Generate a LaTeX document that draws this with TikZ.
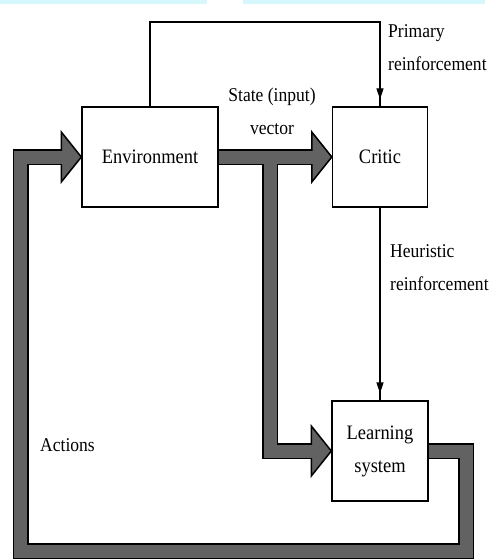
\documentclass[tikz,border=0pt]{standalone}
\usepackage{fontspec}
\setmainfont[FakeStretch=0.9]{Liberation Serif}
\usetikzlibrary{arrows.meta,decorations.markings,calc}
\definecolor{bandgray}{RGB}{98,98,98}
\definecolor{topcyan}{RGB}{214,248,252}
\tikzset{
 box/.style={draw, line width=1.4pt, fill=white, minimum height=100pt, inner sep=0pt, align=center, font=\fontsize{20.5}{33}\selectfont},
 lbl/.style={inner sep=0pt, align=left, font=\fontsize{19.5}{33}\selectfont},
 thinline/.style={line width=1.2pt},
 midarrow/.style={postaction={decorate}, decoration={markings, mark=at position -7pt with {\arrow{Triangle[length=11pt,width=7pt]}}}},
 bandout/.style={line width=16pt, draw=black, line join=miter, line cap=butt},
 bandin/.style={line width=13pt, draw=bandgray, line join=miter, line cap=butt},
 bandhead/.style={fill=bandgray, draw=black, line width=1.5pt, line join=miter},
}
\begin{document}
\begin{tikzpicture}[x=1pt,y=-1pt]
\useasboundingbox (0,0) rectangle (490,560);
\fill[topcyan] (0,0) rectangle (207,4);
\fill[topcyan] (243,0) rectangle (485,4);
% coordinates
\coordinate (top) at (0,22);
\coordinate (bx) at (270,0);
\coordinate (rx) at (466,0);
\coordinate (lx) at (20.5,0);
\coordinate (by) at (0,551);
% boxes
\node[box, minimum width=136pt] (env) at (150,157) {Environment};
\node[box, minimum width=95pt] (critic) at (380,157) {Critic};
\node[box, minimum width=96pt] (learn) at (380,451) {Learning\\system};
\coordinate (envhead) at ($(env.west)+(-20,0)$);
\coordinate (crhead) at ($(critic.west)+(-20,0)$);
\coordinate (lshead) at ($(learn.west)+(-20,0)$);
% arrow heads
\foreach \n in {env,critic,learn}
  \filldraw[bandhead] ($(\n.west)+(-20,-25)$) -- (\n.west) -- ($(\n.west)+(-20,25)$) -- cycle;
% bands: outlines
\draw[bandout] (learn.east) -- (rx |- learn.east) -- (rx |- by) -- (lx |- by) -- (lx |- env.west) -- (envhead);
\draw[bandout] (env.east) -- (crhead);
\draw[bandout] (bx |- env.east) -- (bx |- learn.west) -- (lshead);
% bands: fill
\draw[bandin, shorten >=-2pt] (learn.east) -- (rx |- learn.east) -- (rx |- by) -- (lx |- by) -- (lx |- env.west) -- (envhead);
\draw[bandin, shorten >=-2pt] (env.east) -- (crhead);
\draw[bandin, shorten >=-2pt] (bx |- env.east) -- (bx |- learn.west) -- (lshead);
% thin connectors
\draw[thinline, midarrow] (env.north) -- (env.north |- top) -| (critic.north);
\draw[thinline, midarrow] (critic.south) -- (learn.north);
% labels
\node[lbl, anchor=west] (prim) at (388,48) {Primary\\reinforcement};
\node[lbl, align=center] (state) at (272,111) {State (input)\\vector};
\node[lbl, anchor=west] (heur) at (390,268) {Heuristic\\reinforcement};
\node[lbl, anchor=west] (act) at (40,445) {Actions};
\end{tikzpicture}
\end{document}
